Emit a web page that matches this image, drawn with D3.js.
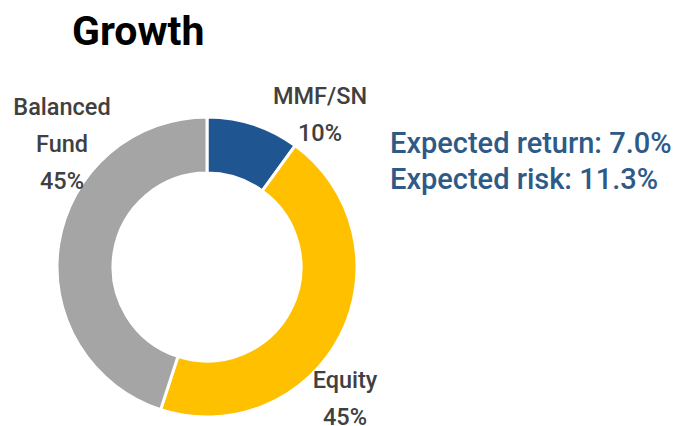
<!DOCTYPE html>
<html>
<head>
<meta charset="utf-8">
<script src="https://cdn.jsdelivr.net/npm/d3@7"></script>
<style>
  body { margin: 0; background: #fff; }
  text { font-family: Roboto, "DejaVu Sans", sans-serif; font-weight: 700; }
</style>
</head>
<body>
<script>
const width = 697,
    height = 426

const categories = ["MMF/SN", "Equity", "Balanced Fund"]
const values = [10, 45, 45]
const colors = ["#1F5591", "#FFC000", "#A5A5A5"]
// label lines as they are broken in the picture
const labelLines = [["MMF/SN", "10%"], ["Equity", "45%"], ["Balanced", "Fund", "45%"]]
const stats = ["Expected return: 7.0%", "Expected risk: 11.3%"]

const cx = 207, cy = 267
const outerR = 150, innerR = 94

const svg = d3.select("body")
    .append("svg")
    .attr("width", width)
    .attr("height", height)

svg.append("text")
    .attr("x", 72)
    .attr("y", 45)
    .attr("font-size", 41)
    .attr("fill", "#000")
    .text("Growth")

const g = svg.append("g")
    .attr("transform", `translate(${cx}, ${cy})`)

const pie = d3.pie().sort(null).value(d => d)
const data_ready = pie(values)

const arc = d3.arc().innerRadius(innerR).outerRadius(outerR)

g.selectAll("path")
    .data(data_ready)
    .join("path")
    .attr("d", arc)
    .attr("fill", (d, i) => colors[i])
    .attr("stroke", "white")
    .style("stroke-width", "3px")

// label anchors, relative to the donut centre (placed by hand in the original)
const labelPos = [[113, -163], [138, 121], [-145, -152]]
const lineH = 37

const labels = g.selectAll("text.lbl")
    .data(data_ready)
    .join("text")
    .attr("class", "lbl")
    .attr("text-anchor", "middle")
    .attr("font-size", 23.5)
    .style("font-weight", 500)
    .attr("fill", "#404040")
    .attr("transform", (d, i) => `translate(${labelPos[i][0]}, ${labelPos[i][1]})`)

labels.selectAll("tspan")
    .data((d, i) => labelLines[i])
    .join("tspan")
    .attr("x", 0)
    .attr("dy", (d, j) => j === 0 ? 0 : lineH)
    .text(d => d)

svg.selectAll("text.stat")
    .data(stats)
    .join("text")
    .attr("class", "stat")
    .attr("x", 390)
    .attr("y", (d, i) => 153 + i * 36)
    .attr("font-size", 29)
    .style("font-weight", 500)
    .attr("fill", "#2E5A87")
    .text(d => d)
</script>
</body>
</html>
